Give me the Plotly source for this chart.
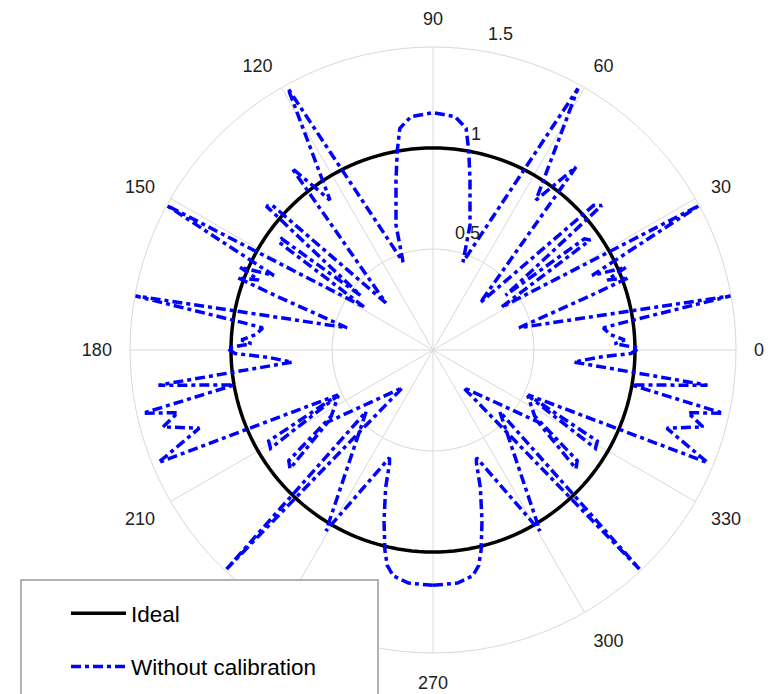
import math
import plotly.graph_objects as go

# Measured response (angle in degrees, normalised magnitude), traced counter-clockwise
meas_theta = [
    270, 276, 280, 282, 283.5, 286, 289, 291, 292,
    300.6, 317.3, 313.3, 309,
    325.6, 320.3, 322.5, 327, 334.4, 328.8, 331, 334.7,
    337.7, 341.5, 344.1, 346.2, 347.7, 350, 352.7, 355.1,
    357.5, 359, 0.5, 2, 3, 5, 7.4, 8.2, 10.3, 14.5,
    19, 20.3, 21.9, 23.2, 25.1, 28.5, 32,
    35, 36.3, 37, 40.6, 42, 45, 52, 55.5, 61, 71.2,
    73.5, 77.7, 79.8, 81.5, 84.6, 90, 95.4, 98.5, 100.2, 102.3, 106.5, 108.8,
    119, 124.5, 127.8, 135, 138, 139.2, 143, 143.7, 145, 148,
    151.5, 154.9, 156.8, 158.1, 159.7, 161, 165.5,
    169.7, 171.8, 172.6, 175, 177, 178, 179.5, 181, 182.5, 184.9,
    187.3, 190, 192.3, 193.8, 195.9, 198.5, 202.3, 205.3,
    209, 211.2, 205.6, 213, 217.5, 219.7, 214.4,
    231, 226.7, 222.7, 239.4,
    248, 249, 251, 254, 256.5, 258, 260, 264, 270,
]
meas_r = [
    1.165, 1.16, 1.135, 1.09, 1.02, 0.88, 0.72, 0.60, 0.575,
    1.04, 0.45, 1.49, 0.24,
    0.63, 0.92, 0.90, 0.60, 0.52, 0.94, 0.93, 0.52,
    1.47, 1.22, 1.39, 1.30, 1.47, 1.00, 1.37, 0.70,
    0.82, 0.98, 1.02, 0.90, 0.95, 0.88, 0.85, 0.95, 1.50, 0.44,
    0.82, 1.03, 0.93, 1.04, 0.87, 1.50, 0.40,
    0.95, 0.93, 0.45, 1.10, 1.07, 0.33, 1.15, 0.90, 1.48, 0.46,
    0.645, 0.86, 1.00, 1.11, 1.16, 1.175, 1.16, 1.11, 1.00, 0.86, 0.645, 0.46,
    1.48, 0.90, 1.14, 0.33, 1.07, 1.09, 0.45, 0.93, 0.93, 0.40,
    1.50, 0.87, 1.04, 0.93, 1.03, 0.82, 0.44,
    1.50, 0.95, 0.85, 0.88, 0.95, 0.90, 1.02, 0.98, 0.82, 0.70,
    1.37, 1.00, 1.47, 1.30, 1.39, 1.22, 1.47, 0.52,
    0.93, 0.94, 0.52, 0.60, 0.90, 0.92, 0.63,
    0.24, 1.49, 0.45, 1.04,
    0.575, 0.60, 0.72, 0.88, 1.02, 1.09, 1.135, 1.16, 1.165,
]

# Ideal response: unit magnitude at every angle
ideal_theta = list(range(0, 361, 2))
ideal_r = [1.0] * len(ideal_theta)

angle_ticks = [0, 30, 60, 90, 120, 150, 180, 210, 240, 270, 300, 330]
radial_ticks = [0.5, 1, 1.5]

FONT = "Arial, Liberation Sans, Helvetica, sans-serif"
GRID = "#d9d9d9"

W, H = 775, 694
cx, cy, R = 433, 350, 303      # pole position and outer ring radius in px
R_MAX = 1.5

fig = go.Figure()

fig.add_trace(go.Scatterpolar(
    r=ideal_r, theta=ideal_theta, mode="lines", name="Ideal",
    line=dict(color="black", width=3.5), legendgroup="a",
))
fig.add_trace(go.Scatterpolar(
    r=meas_r, theta=meas_theta, mode="lines", name="Without calibration",
    line=dict(color="#0000ff", width=3.5, dash="10px,4px,4px,4px"),
    legendgroup="b",
))

# radial tick labels: just outside each ring, right of an 80.5 deg axis
label_angle = math.radians(80.5)
annotations = []
for t in radial_ticks:
    rp = (t + 0.085) / R_MAX * R
    annotations.append(dict(
        xref="paper", yref="paper", showarrow=False,
        x=(cx + rp * math.cos(label_angle)) / W,
        y=(H - cy + rp * math.sin(label_angle)) / H,
        xanchor="left", yanchor="middle",
        text=f"{t:g}", font=dict(family=FONT, size=18, color="#222"),
    ))

fig.update_layout(
    width=W, height=H,
    margin=dict(l=0, r=0, t=0, b=0),
    paper_bgcolor="white",
    font=dict(family=FONT, size=18, color="#222"),
    polar=dict(
        domain=dict(x=[(cx - R) / W, (cx + R) / W],
                    y=[(H - cy - R) / H, (H - cy + R) / H]),
        bgcolor="white",
        radialaxis=dict(
            range=[0, R_MAX], tickvals=radial_ticks, showticklabels=False,
            ticks="", showline=False, gridcolor=GRID, gridwidth=1,
        ),
        angularaxis=dict(
            rotation=0, direction="counterclockwise",
            tickvals=angle_ticks, ticktext=[str(a) for a in angle_ticks],
            ticks="outside", ticklen=14, tickcolor="rgba(0,0,0,0)",
            showline=True, linecolor=GRID, linewidth=1,
            gridcolor=GRID, gridwidth=1,
            tickfont=dict(family=FONT, size=18, color="#222"),
        ),
    ),
    showlegend=True,
    legend=dict(
        x=66 / W, y=(H - 592) / H, xanchor="left", yanchor="top",
        bgcolor="rgba(0,0,0,0)", borderwidth=0,
        font=dict(family=FONT, size=22.5, color="black"),
        traceorder="grouped", tracegroupgap=21, itemwidth=55,
    ),
    annotations=annotations,
    shapes=[dict(
        type="rect", xref="paper", yref="paper", layer="above",
        x0=21 / W, x1=378 / W, y0=-0.05, y1=(H - 580) / H,
        fillcolor="white", line=dict(color="#999999", width=1.5),
    )],
)

fig.write_html("out.html")
